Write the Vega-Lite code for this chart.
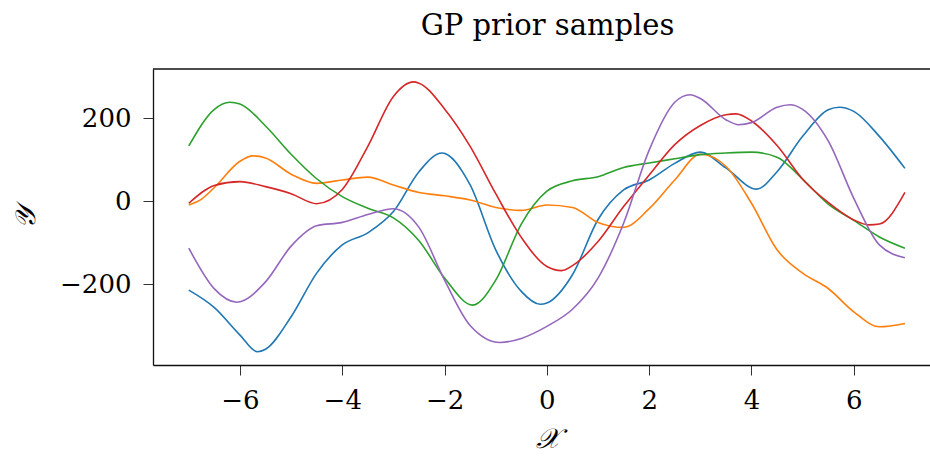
{
  "$schema": "https://vega.github.io/schema/vega-lite/v6.json",
  "width": 777,
  "height": 296,
  "autosize": {"type": "none"},
  "padding": {"left": 153, "top": 69, "right": 0, "bottom": 92},
  "background": "white",
  "config": {
    "view": {"stroke": null},
    "font": "DejaVu Serif"
  },
  "title": {
    "text": "GP prior samples",
    "font": "DejaVu Serif",
    "fontSize": 29,
    "fontWeight": "normal",
    "color": "black",
    "anchor": "middle",
    "dx": 6,
    "baseline": "alphabetic",
    "offset": 4
  },
  "datasets": {
    "top": [{"t": 318}]
  },
  "data": {
    "values": [
      {"s": "a", "x": -7, "y": -214}, {"s": "a", "x": -6.5, "y": -256}, {"s": "a", "x": -6, "y": -322}, {"s": "a", "x": -5.66, "y": -362}, {"s": "a", "x": -5.5, "y": -356}, {"s": "a", "x": -5, "y": -278}, {"s": "a", "x": -4.5, "y": -173}, {"s": "a", "x": -4, "y": -105}, {"s": "a", "x": -3.5, "y": -76}, {"s": "a", "x": -3, "y": -25}, {"s": "a", "x": -2.5, "y": 71}, {"s": "a", "x": -2.05, "y": 116}, {"s": "a", "x": -1.5, "y": 39}, {"s": "a", "x": -1, "y": -117}, {"s": "a", "x": -0.5, "y": -217}, {"s": "a", "x": -0.13, "y": -248}, {"s": "a", "x": 0, "y": -245}, {"s": "a", "x": 0.5, "y": -177}, {"s": "a", "x": 1, "y": -44}, {"s": "a", "x": 1.5, "y": 27}, {"s": "a", "x": 2, "y": 51}, {"s": "a", "x": 2.5, "y": 91}, {"s": "a", "x": 3, "y": 118}, {"s": "a", "x": 3.5, "y": 80}, {"s": "a", "x": 4.1, "y": 29}, {"s": "a", "x": 4.5, "y": 71}, {"s": "a", "x": 5, "y": 156}, {"s": "a", "x": 5.5, "y": 220}, {"s": "a", "x": 5.72, "y": 226}, {"s": "a", "x": 6, "y": 216}, {"s": "a", "x": 6.5, "y": 156}, {"s": "a", "x": 7, "y": 79},

      {"s": "b", "x": -7, "y": -9}, {"s": "b", "x": -6.75, "y": 5}, {"s": "b", "x": -6.5, "y": 33}, {"s": "b", "x": -6, "y": 96}, {"s": "b", "x": -5.75, "y": 109}, {"s": "b", "x": -5.5, "y": 104}, {"s": "b", "x": -5, "y": 65}, {"s": "b", "x": -4.5, "y": 43}, {"s": "b", "x": -4, "y": 51}, {"s": "b", "x": -3.5, "y": 58}, {"s": "b", "x": -3, "y": 39}, {"s": "b", "x": -2.5, "y": 21}, {"s": "b", "x": -2, "y": 13}, {"s": "b", "x": -1.5, "y": 3}, {"s": "b", "x": -1, "y": -15}, {"s": "b", "x": -0.5, "y": -22}, {"s": "b", "x": 0, "y": -9}, {"s": "b", "x": 0.5, "y": -15}, {"s": "b", "x": 1, "y": -51}, {"s": "b", "x": 1.5, "y": -63}, {"s": "b", "x": 2, "y": -18}, {"s": "b", "x": 2.5, "y": 51}, {"s": "b", "x": 3, "y": 113}, {"s": "b", "x": 3.5, "y": 84}, {"s": "b", "x": 4, "y": -5}, {"s": "b", "x": 4.5, "y": -117}, {"s": "b", "x": 5, "y": -173}, {"s": "b", "x": 5.5, "y": -210}, {"s": "b", "x": 6, "y": -266}, {"s": "b", "x": 6.5, "y": -302}, {"s": "b", "x": 7, "y": -294},

      {"s": "c", "x": -7, "y": 133}, {"s": "c", "x": -6.5, "y": 221}, {"s": "c", "x": -6.2, "y": 238}, {"s": "c", "x": -6, "y": 234}, {"s": "c", "x": -5.5, "y": 181}, {"s": "c", "x": -5, "y": 113}, {"s": "c", "x": -4.5, "y": 54}, {"s": "c", "x": -4, "y": 11}, {"s": "c", "x": -3.5, "y": -17}, {"s": "c", "x": -3, "y": -40}, {"s": "c", "x": -2.5, "y": -95}, {"s": "c", "x": -2, "y": -185}, {"s": "c", "x": -1.45, "y": -250}, {"s": "c", "x": -1, "y": -190}, {"s": "c", "x": -0.5, "y": -55}, {"s": "c", "x": 0, "y": 24}, {"s": "c", "x": 0.5, "y": 49}, {"s": "c", "x": 1, "y": 59}, {"s": "c", "x": 1.5, "y": 81}, {"s": "c", "x": 2, "y": 92}, {"s": "c", "x": 2.5, "y": 102}, {"s": "c", "x": 3, "y": 112}, {"s": "c", "x": 3.5, "y": 116}, {"s": "c", "x": 4, "y": 118}, {"s": "c", "x": 4.5, "y": 106}, {"s": "c", "x": 5, "y": 53}, {"s": "c", "x": 5.5, "y": -7}, {"s": "c", "x": 6, "y": -46}, {"s": "c", "x": 6.5, "y": -86}, {"s": "c", "x": 7, "y": -113},

      {"s": "d", "x": -7, "y": -5}, {"s": "d", "x": -6.5, "y": 38}, {"s": "d", "x": -6, "y": 47}, {"s": "d", "x": -5.5, "y": 35}, {"s": "d", "x": -5, "y": 18}, {"s": "d", "x": -4.5, "y": -6}, {"s": "d", "x": -4, "y": 28}, {"s": "d", "x": -3.5, "y": 132}, {"s": "d", "x": -3, "y": 252}, {"s": "d", "x": -2.61, "y": 287}, {"s": "d", "x": -2.5, "y": 284}, {"s": "d", "x": -2, "y": 222}, {"s": "d", "x": -1.5, "y": 132}, {"s": "d", "x": -1, "y": 18}, {"s": "d", "x": -0.5, "y": -87}, {"s": "d", "x": 0, "y": -157}, {"s": "d", "x": 0.29, "y": -167}, {"s": "d", "x": 0.5, "y": -155}, {"s": "d", "x": 1, "y": -97}, {"s": "d", "x": 1.5, "y": -13}, {"s": "d", "x": 2, "y": 63}, {"s": "d", "x": 2.5, "y": 136}, {"s": "d", "x": 3, "y": 182}, {"s": "d", "x": 3.5, "y": 208}, {"s": "d", "x": 3.7, "y": 210}, {"s": "d", "x": 4, "y": 193}, {"s": "d", "x": 4.5, "y": 134}, {"s": "d", "x": 5, "y": 53}, {"s": "d", "x": 5.5, "y": -3}, {"s": "d", "x": 6, "y": -45}, {"s": "d", "x": 6.3, "y": -57}, {"s": "d", "x": 6.5, "y": -55}, {"s": "d", "x": 7, "y": 21},

      {"s": "e", "x": -7, "y": -113}, {"s": "e", "x": -6.5, "y": -211}, {"s": "e", "x": -6.06, "y": -243}, {"s": "e", "x": -5.5, "y": -194}, {"s": "e", "x": -5, "y": -108}, {"s": "e", "x": -4.5, "y": -59}, {"s": "e", "x": -4, "y": -51}, {"s": "e", "x": -3.5, "y": -32}, {"s": "e", "x": -3, "y": -18}, {"s": "e", "x": -2.5, "y": -63}, {"s": "e", "x": -2, "y": -190}, {"s": "e", "x": -1.5, "y": -299}, {"s": "e", "x": -0.91, "y": -340}, {"s": "e", "x": -0.5, "y": -330}, {"s": "e", "x": 0, "y": -301}, {"s": "e", "x": 0.5, "y": -260}, {"s": "e", "x": 1, "y": -185}, {"s": "e", "x": 1.5, "y": -53}, {"s": "e", "x": 2, "y": 123}, {"s": "e", "x": 2.5, "y": 238}, {"s": "e", "x": 2.8, "y": 256}, {"s": "e", "x": 3, "y": 247}, {"s": "e", "x": 3.5, "y": 196}, {"s": "e", "x": 3.75, "y": 184}, {"s": "e", "x": 4, "y": 189}, {"s": "e", "x": 4.5, "y": 226}, {"s": "e", "x": 4.76, "y": 232}, {"s": "e", "x": 5, "y": 221}, {"s": "e", "x": 5.5, "y": 145}, {"s": "e", "x": 6, "y": 7}, {"s": "e", "x": 6.5, "y": -105}, {"s": "e", "x": 7, "y": -136}
    ]
  },
  "layer": [
    {
      "mark": {"type": "line", "strokeWidth": 1.6, "interpolate": "monotone", "clip": true},
      "encoding": {
        "x": {
          "field": "x", "type": "quantitative",
          "scale": {"domain": [-7.7, 7.49], "nice": false, "zero": false},
          "axis": {
            "title": "𝒳",
            "values": [-6, -4, -2, 0, 2, 4, 6],
            "grid": false,
            "domainColor": "#111", "domainWidth": 1.3,
            "tickColor": "#333", "tickSize": 10, "tickWidth": 1,
            "labelFont": "DejaVu Serif", "labelFontSize": 26, "labelColor": "black", "labelPadding": 12,
            "titleFont": "DejaVu Serif", "titleFontSize": 28, "titleFontWeight": "normal", "titleFontStyle": "italic", "titleColor": "black", "titlePadding": 12,
            "titleX": 394
          }
        },
        "y": {
          "field": "y", "type": "quantitative",
          "scale": {"domain": [-394, 318], "nice": false, "zero": false},
          "axis": {
            "title": "𝒴",
            "values": [-200, 0, 200],
            "grid": false,
            "domainColor": "#111", "domainWidth": 1.3,
            "tickColor": "#333", "tickSize": 10, "tickWidth": 1,
            "labelFont": "DejaVu Serif", "labelFontSize": 26, "labelColor": "black", "labelPadding": 12,
            "titleFont": "DejaVu Serif", "titleFontSize": 28, "titleFontWeight": "normal", "titleFontStyle": "italic", "titleColor": "black", "titlePadding": 19
          }
        },
        "color": {
          "field": "s", "type": "nominal", "legend": null,
          "scale": {"domain": ["a", "b", "c", "d", "e"], "range": ["#1f77b4", "#ff7f0e", "#2ca02c", "#d62728", "#9467bd"]}
        }
      }
    },
    {
      "data": {"name": "top"},
      "mark": {"type": "rule", "color": "#111", "strokeWidth": 1.3},
      "encoding": {"y": {"field": "t", "type": "quantitative"}}
    }
  ]
}
